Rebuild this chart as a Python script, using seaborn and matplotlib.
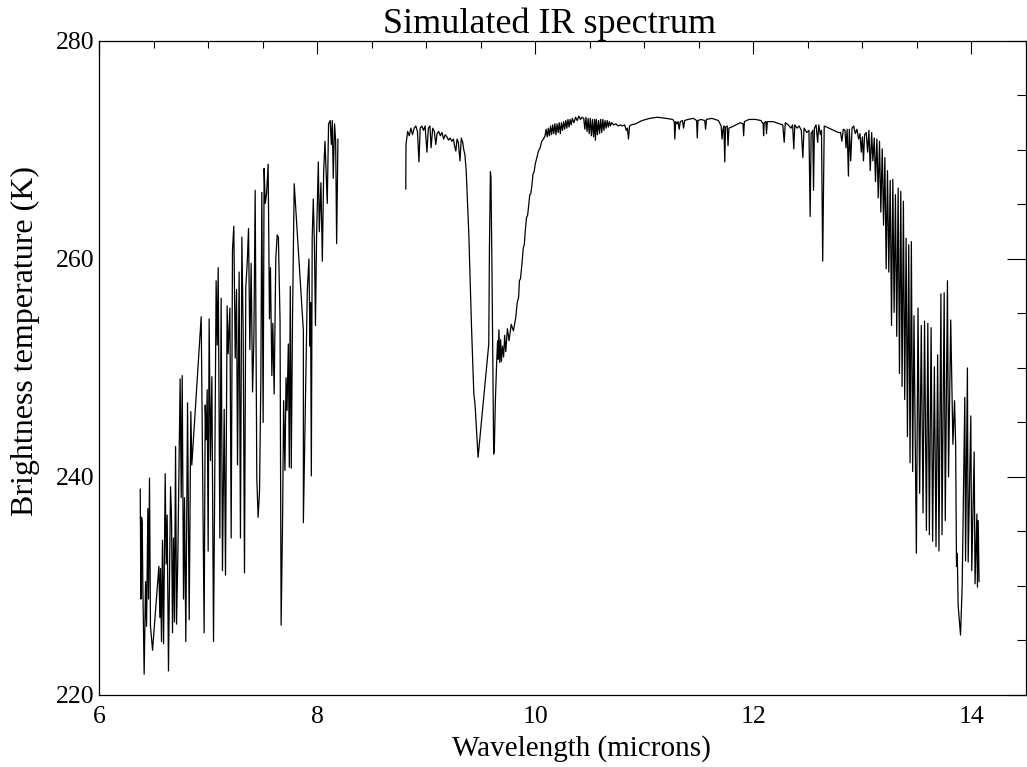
import numpy as np
import pandas as pd
import matplotlib
matplotlib.use("Agg")
import matplotlib.pyplot as plt
import seaborn as sns
from matplotlib.ticker import MultipleLocator

# Band 1: 6.4 - 8.2 microns (water vapour band)
wl_a = [6.378, 6.384, 6.390, 6.396, 6.402, 6.414, 6.427, 6.436, 6.448, 6.454,
        6.463, 6.472, 6.491, 6.549, 6.558, 6.564, 6.573, 6.582, 6.592, 6.607,
        6.616, 6.625, 6.637, 6.656, 6.665, 6.674, 6.683, 6.692, 6.702, 6.711,
        6.723, 6.744, 6.754, 6.763, 6.775, 6.784, 6.796, 6.812, 6.827, 6.842,
        6.851, 6.937, 6.964, 6.974, 6.983, 6.992, 7.001, 7.010, 7.022, 7.035,
        7.050, 7.059, 7.074, 7.084, 7.093, 7.108, 7.120, 7.132, 7.148, 7.160,
        7.175, 7.184, 7.200, 7.212, 7.224, 7.236, 7.249, 7.261, 7.270, 7.285,
        7.297, 7.310, 7.322, 7.334, 7.346, 7.359, 7.371, 7.383, 7.395, 7.408,
        7.420, 7.432, 7.447, 7.459, 7.472, 7.484, 7.493, 7.505, 7.514, 7.524,
        7.536, 7.551, 7.563, 7.572, 7.585, 7.594, 7.606, 7.621, 7.634, 7.645,
        7.660, 7.670, 7.684, 7.693, 7.705, 7.715, 7.724, 7.736, 7.745, 7.754,
        7.763, 7.775, 7.790, 7.874, 7.874, 7.895, 7.910, 7.925, 7.935, 7.940,
        7.947, 7.955, 7.965, 7.975, 7.985, 7.995, 8.011, 8.020, 8.035, 8.048,
        8.060, 8.072, 8.082, 8.093, 8.105, 8.120, 8.130, 8.139, 8.148, 8.160,
        8.170, 8.179, 8.191]
bt_a = [238.9, 228.8, 236.3, 235.9, 230.0, 221.9, 230.4, 226.3, 237.1, 228.8,
        239.9, 226.3, 224.1, 231.8, 227.1, 231.6, 224.9, 234.2, 224.7, 240.3,
        232.0, 236.5, 222.2, 239.1, 236.3, 225.7, 234.4, 226.7, 242.8, 226.5,
        232.8, 249.0, 238.1, 249.3, 228.8, 238.1, 224.9, 246.8, 226.9, 246.0,
        241.1, 254.7, 225.7, 246.6, 243.4, 248.0, 233.2, 254.5, 241.5, 249.2,
        224.9, 236.7, 258.0, 252.1, 259.2, 234.4, 256.4, 231.4, 246.2, 231.0,
        255.7, 251.3, 255.5, 234.4, 260.8, 263.0, 250.9, 257.2, 241.1, 258.8,
        234.4, 262.0, 253.3, 231.2, 257.4, 259.6, 262.8, 251.7, 259.6, 247.8,
        252.5, 266.3, 239.9, 236.3, 238.7, 248.8, 266.1, 245.0, 268.3, 265.1,
        265.9, 268.7, 254.5, 259.2, 249.3, 254.1, 247.6, 260.0, 262.2, 262.0,
        254.4, 226.4, 236.6, 247.0, 240.6, 249.1, 246.1, 252.2, 240.9, 257.5,
        240.8, 255.0, 266.9, 253.4, 235.8, 248.2, 257.1, 260.0, 252.0, 256.0,
        240.1, 262.0, 265.5, 261.5, 253.9, 262.0, 268.9, 262.5, 267.0, 259.8,
        268.0, 270.8, 268.0, 265.1, 272.4, 272.7, 270.5, 272.7, 267.4, 272.4,
        270.8, 261.4, 271.0]

# Band 2: 8.8 - 14.1 microns (window, ozone and CO2 bands)
wl_b = [8.813, 8.815, 8.830, 8.845, 8.860, 8.875, 8.890, 8.905, 8.920, 8.934,
        8.945, 8.960, 8.975, 8.990, 9.007, 9.020, 9.035, 9.045, 9.060, 9.075,
        9.088, 9.100, 9.115, 9.130, 9.145, 9.160, 9.175, 9.190, 9.205, 9.220,
        9.235, 9.250, 9.260, 9.272, 9.283, 9.295, 9.310, 9.322, 9.335, 9.345,
        9.355, 9.367, 9.391, 9.416, 9.437, 9.445, 9.452, 9.476, 9.574, 9.580,
        9.589, 9.594, 9.604, 9.619, 9.625, 9.634, 9.646, 9.655, 9.660, 9.667,
        9.675, 9.683, 9.690, 9.700, 9.710, 9.720, 9.730, 9.745, 9.760, 9.780,
        9.800, 9.821, 9.835, 9.848, 9.855, 9.865, 9.878, 9.890, 9.900, 9.909,
        9.920, 9.930, 9.939, 9.950, 9.960, 9.970, 9.980, 9.990, 10.000, 10.015,
        10.030, 10.045, 10.060, 10.075, 10.090, 10.100, 10.110, 10.120, 10.130, 10.140,
        10.150, 10.160, 10.170, 10.180, 10.190, 10.200, 10.210, 10.220, 10.230, 10.240,
        10.250, 10.260, 10.270, 10.280, 10.290, 10.300, 10.310, 10.320, 10.330, 10.340,
        10.355, 10.370, 10.385, 10.400, 10.415, 10.430, 10.445, 10.455, 10.465, 10.475,
        10.485, 10.495, 10.505, 10.515, 10.525, 10.535, 10.545, 10.552, 10.560, 10.570,
        10.580, 10.590, 10.600, 10.610, 10.620, 10.630, 10.640, 10.650, 10.660, 10.670,
        10.680, 10.690, 10.700, 10.720, 10.740, 10.760, 10.780, 10.800, 10.820, 10.835,
        10.845, 10.855, 10.865, 10.880, 10.920, 10.980, 11.050, 11.120, 11.200, 11.260,
        11.275, 11.280, 11.288, 11.300, 11.310, 11.320, 11.330, 11.350, 11.360, 11.370,
        11.400, 11.450, 11.480, 11.486, 11.492, 11.520, 11.555, 11.562, 11.570, 11.620,
        11.680, 11.705, 11.713, 11.720, 11.730, 11.738, 11.745, 11.760, 11.768, 11.776,
        11.800, 11.840, 11.880, 11.905, 11.911, 11.918, 11.960, 12.020, 12.070, 12.090,
        12.094, 12.100, 12.115, 12.121, 12.128, 12.180, 12.240, 12.270, 12.283, 12.293,
        12.320, 12.345, 12.360, 12.371, 12.380, 12.400, 12.420, 12.440, 12.454, 12.465,
        12.490, 12.510, 12.521, 12.530, 12.545, 12.552, 12.560, 12.575, 12.590, 12.600,
        12.615, 12.625, 12.636, 12.650, 12.780, 12.800, 12.812, 12.825, 12.840, 12.850,
        12.860, 12.872, 12.880, 12.893, 12.905, 12.920, 12.935, 12.950, 12.965, 12.978,
        12.990, 13.000, 13.010, 13.020, 13.035, 13.048, 13.060, 13.072, 13.085, 13.096,
        13.109, 13.120, 13.133, 13.145, 13.157, 13.169, 13.182, 13.194, 13.206, 13.218,
        13.230, 13.242, 13.255, 13.267, 13.279, 13.291, 13.303, 13.315, 13.328, 13.340,
        13.352, 13.364, 13.376, 13.388, 13.401, 13.413, 13.425, 13.437, 13.449, 13.461,
        13.473, 13.495, 13.510, 13.525, 13.540, 13.556, 13.570, 13.587, 13.600, 13.614,
        13.630, 13.644, 13.660, 13.675, 13.690, 13.702, 13.720, 13.730, 13.750, 13.760,
        13.780, 13.790, 13.810, 13.830, 13.845, 13.855, 13.863, 13.870, 13.878, 13.900,
        13.915, 13.939, 13.946, 13.963, 13.970, 13.994, 14.003, 14.025, 14.033, 14.050,
        14.055, 14.062, 14.070]
bt_b = [266.4, 270.5, 271.7, 271.3, 272.0, 271.4, 272.0, 272.2, 271.7, 268.9,
        272.0, 272.2, 271.8, 272.2, 269.8, 272.0, 272.2, 270.2, 272.0, 271.7,
        270.5, 271.5, 271.7, 271.3, 271.6, 271.0, 271.4, 271.2, 270.9, 271.1,
        270.8, 271.0, 270.4, 269.9, 271.0, 270.7, 269.0, 271.1, 270.7, 270.0,
        269.6, 268.1, 262.3, 253.7, 247.6, 247.0, 246.0, 241.8, 252.2, 260.8,
        268.0, 267.5, 258.3, 242.1, 242.5, 246.8, 250.4, 252.5, 250.8, 253.5,
        250.5, 252.6, 250.6, 252.0, 251.0, 253.0, 251.5, 253.6, 252.5, 254.0,
        253.4, 254.6, 256.0, 256.5, 258.0, 258.2, 259.5, 261.0, 261.3, 262.6,
        263.8, 264.0, 264.8, 265.9, 266.0, 266.8, 267.8, 268.0, 268.7, 269.3,
        269.9, 270.2, 270.8, 271.0, 271.3, 271.9, 271.2, 272.0, 271.3, 272.2,
        271.4, 272.3, 271.5, 272.4, 271.4, 272.4, 271.6, 272.5, 271.5, 272.5,
        271.8, 272.6, 271.9, 272.7, 272.0, 272.8, 272.1, 272.8, 272.3, 272.9,
        272.5, 273.0, 272.7, 273.1, 272.8, 273.0, 272.9, 271.9, 273.0, 271.7,
        272.9, 271.5, 272.9, 271.3, 272.8, 271.2, 272.8, 270.9, 272.8, 271.4,
        272.7, 271.5, 272.8, 271.6, 272.8, 271.8, 272.7, 272.0, 272.7, 272.1,
        272.6, 272.2, 272.5, 272.3, 272.4, 272.2, 272.3, 272.2, 272.3, 271.8,
        272.0, 271.0, 272.2, 272.3, 272.4, 272.7, 272.9, 273.0, 272.9, 272.8,
        272.6, 271.0, 272.6, 272.4, 272.6, 271.9, 272.6, 272.7, 272.0, 272.7,
        272.8, 272.9, 272.7, 271.1, 272.7, 272.8, 272.7, 271.9, 272.8, 272.9,
        272.7, 272.2, 271.0, 271.8, 272.2, 268.9, 272.1, 272.2, 270.4, 272.0,
        272.1, 272.3, 272.5, 272.4, 271.3, 272.6, 272.8, 272.8, 272.7, 272.4,
        271.3, 272.5, 272.6, 271.5, 272.6, 272.6, 272.4, 272.3, 270.7, 272.5,
        272.3, 272.0, 272.3, 270.1, 272.3, 272.0, 272.2, 271.8, 269.3, 272.0,
        271.6, 271.8, 263.9, 271.5, 271.8, 266.3, 272.0, 272.3, 270.7, 272.3,
        271.4, 271.8, 259.8, 272.2, 271.6, 271.6, 270.8, 271.9, 271.8, 270.2,
        271.9, 267.6, 271.9, 269.0, 272.0, 272.2, 271.5, 271.9, 271.0, 271.5,
        269.8, 271.2, 269.0, 271.4, 271.6, 269.8, 271.8, 268.1, 271.6, 269.0,
        271.1, 267.1, 271.0, 265.6, 270.8, 264.3, 270.1, 263.1, 269.3, 259.1,
        268.1, 258.8, 267.2, 253.9, 267.3, 255.1, 265.9, 252.9, 266.5, 249.5,
        266.2, 248.3, 265.3, 247.1, 261.9, 243.7, 261.3, 241.3, 261.6, 240.5,
        254.8, 233.0, 255.5, 238.5, 253.9, 236.7, 254.3, 235.1, 254.1, 234.7,
        253.7, 234.1, 250.1, 233.6, 251.2, 233.2, 256.8, 234.7, 256.9, 236.0,
        258.0, 240.0, 254.4, 243.0, 247.0, 243.0, 231.8, 233.0, 228.2, 225.5,
        230.0, 247.3, 232.3, 250.0, 232.2, 245.6, 231.4, 242.3, 230.2, 236.6,
        229.9, 236.0, 230.4]

x_major = [6, 8, 10, 12, 14]
y_major = [220, 240, 260, 280]

sns.set_theme(style="white")
plt.rcParams['font.family'] = ['Liberation Serif', 'DejaVu Serif']
plt.rcParams['text.color'] = 'black'
plt.rcParams['axes.labelcolor'] = 'black'

fig = plt.figure(figsize=(10.27, 7.67), dpi=100)
ax = fig.add_axes([0.0964, 0.0939, 0.9026, 0.8527])

band_a = pd.DataFrame({"wl": wl_a, "bt": bt_a})
band_b = pd.DataFrame({"wl": wl_b, "bt": bt_b})
for band in (band_a, band_b):
    sns.lineplot(data=band, x="wl", y="bt", ax=ax, color="black",
                 linewidth=0.9, estimator=None, sort=False)

ax.set_xlim(6, 14.5)
ax.set_ylim(220, 280)
ax.set_xticks(x_major)
ax.set_yticks(y_major)
ax.xaxis.set_minor_locator(MultipleLocator(0.5))
ax.yaxis.set_minor_locator(MultipleLocator(5))

for s in ax.spines.values():
    s.set_color("black")
    s.set_linewidth(0.9)

ax.tick_params(axis="both", which="both", direction="in", top=True, right=True,
               colors="black", labelsize=18.5, width=0.8)
ax.tick_params(axis="x", which="major", length=9.5, pad=8)
ax.tick_params(axis="x", which="minor", length=4.8)
ax.tick_params(axis="y", which="major", length=13.5, pad=3)
ax.tick_params(axis="y", which="minor", length=6.8)

ax.set_xlabel("Wavelength (microns)", fontsize=21, color="black")
ax.set_ylabel("Brightness temperature (K)", fontsize=23, color="black")
ax.xaxis.set_label_coords(0.52, -0.062)
ax.yaxis.set_label_coords(-0.064, 0.541)
ax.set_title("Simulated IR spectrum", fontsize=26, pad=6, x=0.4865, color="black")

fig.savefig("out.png", dpi=100)
